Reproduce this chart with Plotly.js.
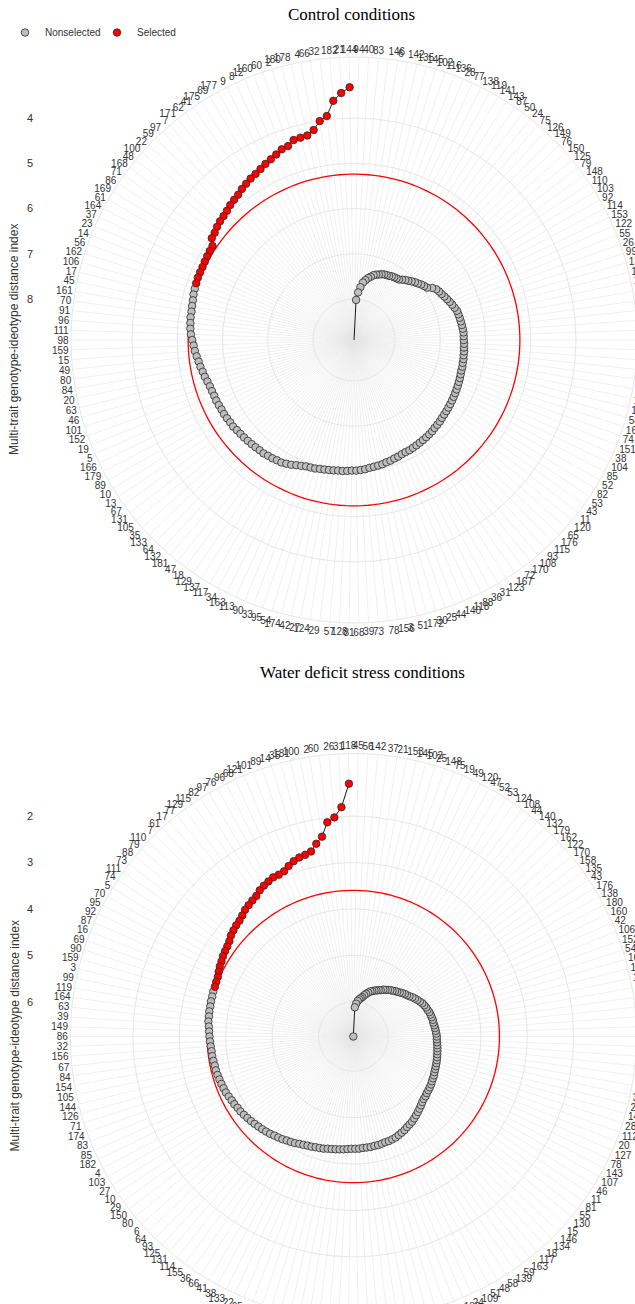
<!DOCTYPE html>
<html><head><meta charset="utf-8">
<script src="https://cdn.plot.ly/plotly-3.0.1.min.js"></script>
<style>
html,body{margin:0;padding:0;background:#fff;}
#wrap{width:635px;height:1304px;overflow:hidden;position:relative;}
#chart{width:640px;height:1340px;}
</style></head><body>
<div id="wrap"><div id="chart"></div></div>
<script>
// ---------- DATA ----------
const panelTitles = ['Control conditions', 'Water deficit stress conditions'];
const yTitle = 'Multi-trait genotype-ideotype distance index';
const legendNames = ['Nonselected', 'Selected'];
const nSelected = 36;

// genotypes ranked by MGIDI (counterclockwise from top)
const controlLabels = [144,21,182,32,66,4,178,180,2,60,160,12,8,9,177,69,175,41,62,171,7,97,59,22,100,48,168,71,86,169,61,164,37,23,14,56,162,106,17,45,161,70,91,96,111,98,159,15,49,80,84,20,63,46,101,152,19,5,166,179,89,10,13,67,131,105,35,133,64,132,181,47,18,129,137,117,34,163,113,90,33,95,54,174,42,27,124,29,57,128,81,68,39,73,78,156,3,51,172,30,25,44,140,118,88,36,31,123,167,72,170,108,93,115,176,65,120,11,43,53,82,52,85,104,38,151,74,16,58,147,107,134,154,155,130,109,139,158,165,173,157,1,112,121,127,99,26,55,122,153,114,92,103,110,148,79,125,150,76,149,126,75,24,50,87,143,141,119,138,77,28,136,116,102,145,135,142,6,146,83,40,94];
const controlMgidi = [3.32,3.44,3.60,3.92,4.01,4.18,4.27,4.28,4.29,4.38,
4.40,4.46,4.51,4.55,4.60,4.64,4.67,4.71,4.75,4.80,
4.83,4.86,4.90,4.93,4.95,4.98,5.02,5.04,5.15,5.16,
5.17,5.18,5.19,5.19,5.19,5.20,5.21,5.22,5.24,5.25,
5.26,5.26,5.27,5.28,5.30,5.33,5.36,5.38,5.41,5.44,
5.46,5.49,5.51,5.54,5.56,5.57,5.58,5.58,5.59,5.60,
5.60,5.61,5.62,5.62,5.64,5.65,5.66,5.67,5.68,5.69,
5.70,5.70,5.72,5.73,5.75,5.76,5.79,5.82,5.86,5.89,
5.92,5.93,5.94,5.96,5.97,5.98,5.99,6.00,6.00,6.01,
6.02,6.02,6.03,6.04,6.06,6.07,6.08,6.09,6.11,6.12,
6.14,6.15,6.17,6.18,6.18,6.19,6.20,6.21,6.22,6.23,
6.24,6.25,6.27,6.28,6.29,6.31,6.32,6.33,6.34,6.35,
6.36,6.37,6.38,6.39,6.40,6.41,6.42,6.43,6.44,6.44,
6.45,6.45,6.46,6.46,6.47,6.47,6.48,6.48,6.48,6.49,
6.50,6.51,6.52,6.53,6.54,6.57,6.60,6.63,6.66,6.69,
6.72,6.74,6.77,6.83,6.92,6.95,6.98,7.02,7.05,7.09,
7.13,7.16,7.20,7.24,7.25,7.26,7.27,7.29,7.30,7.31,
7.33,7.36,7.38,7.41,7.46,7.50,7.56,7.62,7.73,7.85,
8.02,8.91];
const controlCutoff = 5.24;
const controlRadialTicks = [4,5,6,7,8];

const stressLabels = [118,31,26,60,2,100,181,35,14,89,101,121,68,96,76,97,82,115,129,77,17,61,7,110,79,88,73,111,74,5,70,95,92,87,16,69,90,159,3,99,119,164,63,39,149,86,32,156,67,84,154,105,144,126,71,174,83,85,182,4,103,27,10,29,150,80,6,64,93,125,131,114,155,36,66,41,38,133,22,65,147,9,113,50,161,30,98,1,72,137,57,104,12,91,128,40,151,8,62,116,33,94,136,24,109,51,48,58,139,59,163,117,18,134,146,15,130,55,81,11,46,107,143,78,127,20,112,28,141,23,34,157,13,172,123,166,171,168,175,165,178,169,173,177,167,54,152,106,42,160,180,138,176,43,135,158,170,122,162,179,132,140,44,108,124,53,52,47,120,49,19,75,148,25,102,145,153,21,37,142,56,45];
const stressMgidi = [1.30,1.80,2.01,2.10,2.39,2.52,2.66,2.70,2.72,2.76,
2.82,2.89,2.91,2.91,2.94,2.97,3.01,3.07,3.10,3.13,
3.16,3.21,3.25,3.27,3.30,3.33,3.38,3.41,3.43,3.45,
3.48,3.50,3.53,3.56,3.57,3.58,3.58,3.59,3.59,3.60,
3.60,3.61,3.61,3.63,3.64,3.65,3.66,3.67,3.68,3.68,
3.69,3.70,3.70,3.71,3.72,3.73,3.74,3.75,3.77,3.79,
3.80,3.82,3.83,3.85,3.87,3.89,3.91,3.93,3.95,3.97,
3.99,4.02,4.04,4.06,4.09,4.11,4.13,4.16,4.18,4.20,
4.21,4.23,4.24,4.25,4.27,4.28,4.29,4.30,4.31,4.32,
4.33,4.33,4.33,4.34,4.34,4.34,4.35,4.35,4.36,4.37,
4.37,4.38,4.39,4.41,4.43,4.45,4.48,4.50,4.52,4.55,
4.58,4.61,4.64,4.67,4.70,4.72,4.73,4.75,4.76,4.77,
4.78,4.80,4.81,4.82,4.84,4.85,4.86,4.87,4.88,4.89,
4.90,4.91,4.92,4.93,4.94,4.95,4.95,4.96,4.97,4.98,
4.99,5.00,5.00,5.01,5.02,5.03,5.05,5.06,5.08,5.10,
5.13,5.16,5.19,5.22,5.26,5.29,5.31,5.34,5.37,5.40,
5.42,5.45,5.47,5.50,5.53,5.55,5.59,5.61,5.64,5.66,
5.69,5.71,5.75,5.79,5.83,5.88,5.91,5.94,5.98,6.04,
6.12,6.75];
const stressCutoff = 3.60;
const stressRadialTicks = [2,3,4,5,6];

// ---------- STYLE / LAYOUT ----------
const W = 640, H = 1340;
const FONT = 'Liberation Sans, Arial, sans-serif';
const GRID = '#e6e6e6';

function chk(l){ if(new Set(l).size!==l.length) console.error('duplicate labels'); }
chk(controlLabels); chk(stressLabels);

function panelTraces(labels, vals, cutoff, subplot, showLegend){
  const cats = labels.map(String);
  const ring = cats.concat([cats[0]]);
  return [
    {type:'scatterpolar', subplot:subplot, theta:ring, r:ring.map(()=>cutoff), mode:'lines',
     line:{color:'#ff0000', width:1.3}, hoverinfo:'skip', showlegend:false},
    {type:'scatterpolar', subplot:subplot, theta:cats, r:vals, mode:'lines',
     line:{color:'#1a1a1a', width:1}, hoverinfo:'skip', showlegend:false},
    {type:'scatterpolar', subplot:subplot, theta:cats.slice(nSelected), r:vals.slice(nSelected), mode:'markers',
     name:legendNames[0], legendgroup:'ns', showlegend:showLegend,
     marker:{symbol:'circle', size:7.5, color:'#bebebe', line:{color:'#2a2a2a', width:0.8}}},
    {type:'scatterpolar', subplot:subplot, theta:cats.slice(0,nSelected), r:vals.slice(0,nSelected), mode:'markers',
     name:legendNames[1], legendgroup:'s', showlegend:showLegend,
     marker:{symbol:'circle', size:7.5, color:'#ff0000', line:{color:'#2a2a2a', width:0.8}}}
  ];
}

function polarLayout(labels, cx, cy, R, range, ticks){
  return {
    domain:{x:[(cx-R)/W,(cx+R)/W], y:[1-(cy+R)/H, 1-(cy-R)/H]},
    bgcolor:'rgba(0,0,0,0)',
    angularaxis:{type:'category', categoryorder:'array', categoryarray:labels.map(String),
      rotation:90+180/labels.length, direction:'counterclockwise',
      tickmode:'linear', dtick:1,
      showgrid:true, gridcolor:GRID, gridwidth:0.6,
      showline:true, linecolor:GRID, linewidth:1, ticks:'',
      tickfont:{family:FONT, size:10, color:'#333'}},
    radialaxis:{range:range, tickvals:ticks, showticklabels:false, ticks:'', showline:false,
      gridcolor:GRID, gridwidth:1, angle:90}
  };
}

const R = 283;
const topC = {x:354, y:340, ppu:45.25, vmax:8.906};
const botC = {x:353.3, y:1036.5, ppu:46.4, vmax:6.75};
const topOuter = topC.vmax - R/topC.ppu;
const botOuter = botC.vmax - R/botC.ppu;

const traces = []
  .concat(panelTraces(controlLabels, controlMgidi, controlCutoff, 'polar', true))
  .concat(panelTraces(stressLabels, stressMgidi, stressCutoff, 'polar2', false));

// invisible anchors for the radial value axes
traces.push({type:'scatter', x:[0.5], y:[controlRadialTicks[0]], xaxis:'x', yaxis:'y', mode:'markers',
  marker:{opacity:0}, showlegend:false, hoverinfo:'skip'});
traces.push({type:'scatter', x:[0.5], y:[stressRadialTicks[0]], xaxis:'x2', yaxis:'y2', mode:'markers',
  marker:{opacity:0}, showlegend:false, hoverinfo:'skip'});

function yAxis(c, outer, ticks, anchor){
  return {anchor:anchor, domain:[1-(c.y+R)/H, 1-(c.y-R)/H],
    range:[c.vmax + (c.vmax-outer), outer], tickvals:ticks,
    showgrid:false, zeroline:false, showline:false, ticks:'',
    tickfont:{family:FONT, size:11, color:'#333'}, fixedrange:true};
}

function ann(text, x, y, size, family, angle){
  return {text:text, x:x/W, y:1-y/H, xref:'paper', yref:'paper', showarrow:false,
    xanchor:'center', yanchor:'middle', textangle:angle||0,
    font:{family:family, size:size, color:angle ? '#333' : '#000'}};
}

const SERIF = 'Liberation Serif, Times New Roman, serif';
const layout = {
  width:W, height:H,
  margin:{l:0, r:0, t:0, b:0},
  paper_bgcolor:'#fff', plot_bgcolor:'rgba(0,0,0,0)',
  showlegend:true,
  legend:{orientation:'h', x:5/W, y:1-18/H, xanchor:'left', yanchor:'top',
    font:{family:FONT, size:10, color:'#333'}, bgcolor:'rgba(0,0,0,0)',
    entrywidth:47, entrywidthmode:'pixels', traceorder:'normal'},
  polar:polarLayout(controlLabels, topC.x, topC.y, R, [topC.vmax, topOuter], controlRadialTicks),
  polar2:polarLayout(stressLabels, botC.x, botC.y, R, [botC.vmax, botOuter], stressRadialTicks),
  xaxis:{domain:[34/W, 38/W], anchor:'y', visible:false, range:[0,1], fixedrange:true},
  xaxis2:{domain:[34/W, 38/W], anchor:'y2', visible:false, range:[0,1], fixedrange:true},
  yaxis:yAxis(topC, topOuter, controlRadialTicks, 'x'),
  yaxis2:yAxis(botC, botOuter, stressRadialTicks, 'x2'),
  annotations:[
    ann(panelTitles[0], 351, 15, 17, SERIF),
    ann(panelTitles[1], 362, 672, 17, SERIF),
    ann(yTitle, 14, topC.y, 12, FONT, -90),
    ann(yTitle, 14, botC.y, 12, FONT, -90)
  ]
};

Plotly.newPlot('chart', traces, layout, {displayModeBar:false, staticPlot:true});
</script>
</body></html>
